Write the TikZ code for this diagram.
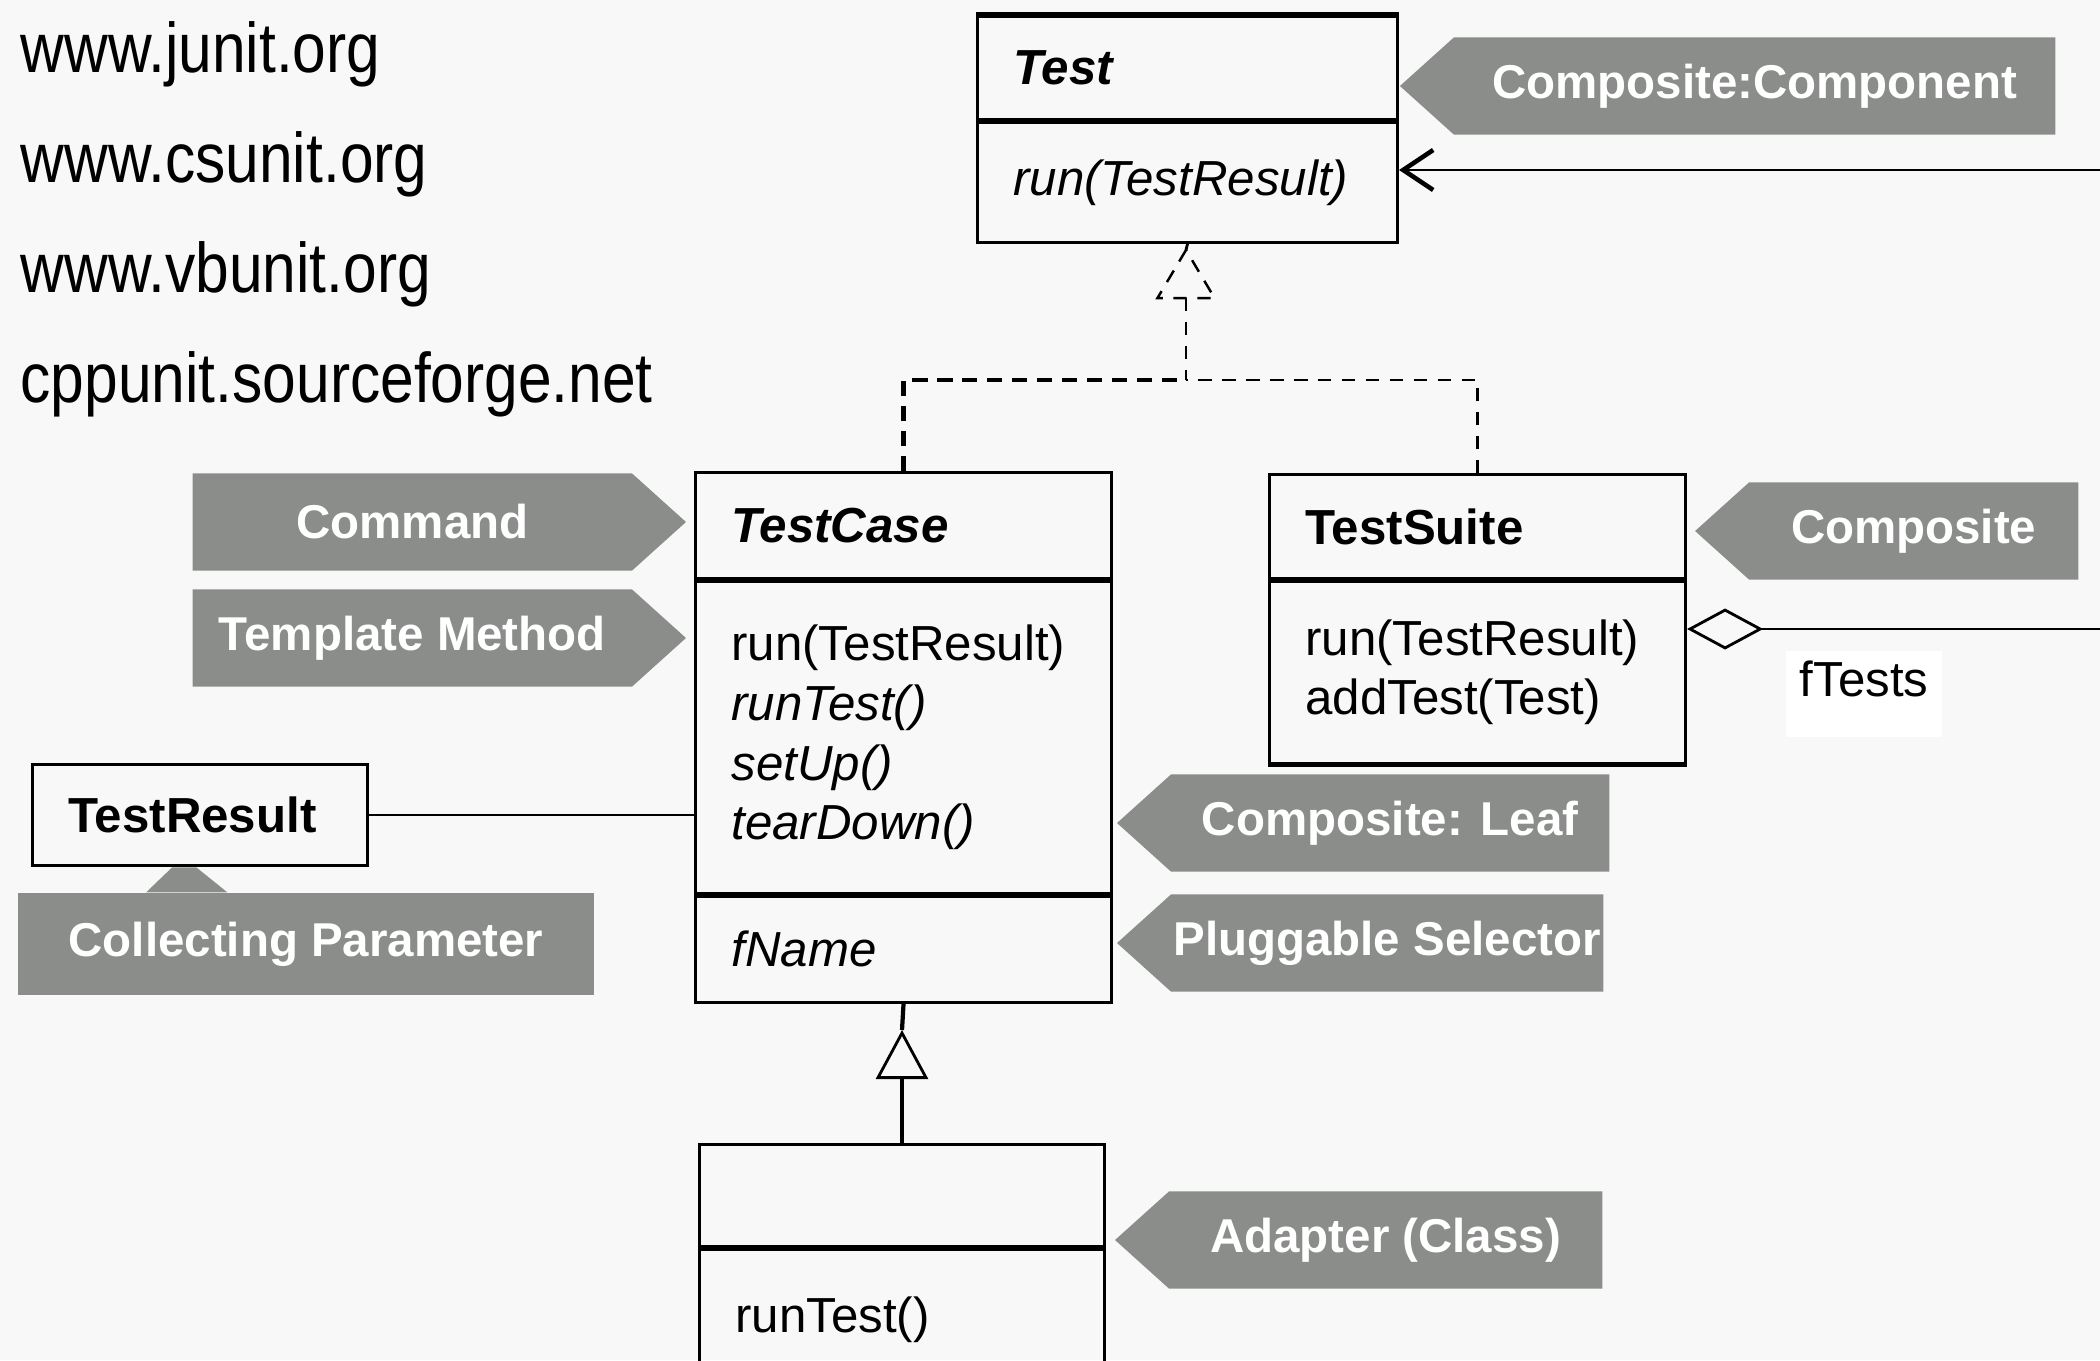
\documentclass[tikz,border=0pt]{standalone}
\usepackage{fontspec}
\setmainfont{Liberation Sans}
\newfontfamily\urlfont[FakeStretch=0.86]{Liberation Sans}
\usetikzlibrary{positioning,shapes.symbols,arrows.meta}
\definecolor{tagfill}{RGB}{138,141,138}
\definecolor{paper}{RGB}{248,248,248}
\newcommand\umlsize{\fontsize{14pt}{17pt}\selectfont}
\newcommand\tagsize{\fontsize{13.5pt}{16pt}\selectfont}
\tikzset{
  comp/.style={draw, line width=0.8pt, inner xsep=0.36cm, inner ysep=0pt,
    align=left, anchor=north west, text width=#1, font=\umlsize},
  divider/.style={line width=1.5pt},
  assoc/.style={line width=0.8pt},
  gen/.style={line width=1.2pt},
  realize/.style={line width=0.7pt, dash pattern=on 3.8pt off 3pt},
  realizebold/.style={line width=1.2pt, dash pattern=on 4.3pt off 2.8pt},
  tagbox/.style={fill=tagfill, text=white, font=\tagsize\bfseries,
    inner sep=0pt, minimum height=0.97cm},
  tagleft/.style={tagbox, shape=signal, signal to=west, signal pointer angle=84},
  tagright/.style={tagbox, shape=signal, signal to=east, signal pointer angle=84},
  url/.style={anchor=base west, inner sep=0pt,
    font=\urlfont\fontsize{20pt}{24pt}\selectfont}
}
\begin{document}
\begin{tikzpicture}[x=0.01cm, y=-0.01cm]
\useasboundingbox (0,0) rectangle (2100,1360);
\clip (0,0) rectangle (2100,1360);
\fill[paper] (0,0) rectangle (2100,1360);

% links
\node[url] (junit) at (20,72) {www.junit.org};
\node[url] (csunit) at (20,182) {www.csunit.org};
\node[url] (vbunit) at (20,292) {www.vbunit.org};
\node[url] (cppunit) at (20,402) {cppunit.sourceforge.net};

% classes
\node[comp=3.48cm, minimum height=1.03cm] (testhead) at (976,15) {\textbf{\textit{Test}}};
\node[comp=3.48cm, minimum height=1.20cm, below=0pt of testhead] (testbody) {\textit{run(TestResult)}};
\draw[divider] (testhead.north west) -- (testhead.north east);
\draw[divider] (testhead.south west) -- (testhead.south east);

\node[comp=3.44cm, minimum height=1.06cm] (tchead) at (694,471) {\textbf{\textit{TestCase}}};
\node[comp=3.44cm, minimum height=3.12cm, below=0pt of tchead] (tcmeth)
  {run(TestResult)\\ \textit{runTest()}\\ \textit{setUp()}\\ \textit{tearDown()}};
\node[comp=3.44cm, minimum height=1.06cm, below=0pt of tcmeth] (tcfield) {\textit{fName}};
\draw[divider] (tchead.south west) -- (tchead.south east);
\draw[divider] (tcmeth.south west) -- (tcmeth.south east);

\node[comp=3.44cm, minimum height=1.04cm] (tshead) at (1268,473) {\textbf{TestSuite}};
\node[comp=3.44cm, minimum height=1.82cm, below=0pt of tshead] (tsbody)
  {run(TestResult)\\ addTest(Test)};
\draw[divider] (tshead.south west) -- (tshead.south east);
\draw[divider] (tsbody.south west) -- (tsbody.south east);

\node[comp=3.33cm, minimum height=1.02cm, anchor=north] (subhead) at (902,1143) {};
\node[comp=3.33cm, minimum height=1.40cm, below=0pt of subhead] (subbody) {runTest()};

\node[comp=2.63cm, minimum height=1.01cm] (result) at (31,763) {\textbf{TestResult}};

% pattern tags
\node[tagleft, minimum width=6.55cm, anchor=east] (tcomponent) at (2056,86) {Composite:Component};
\node[tagleft, minimum width=3.83cm, anchor=east] (tcomposite) at (2079,531) {Composite};
\node[tagleft, minimum width=4.92cm, anchor=east] (tleaf) at (1610,823) {Composite: Leaf};
\node[tagleft, minimum width=4.86cm, anchor=east] (tselector) at (1604,943) {Pluggable Selector};
\node[tagleft, minimum width=4.87cm, anchor=east] (tadapter) at (1603,1240) {Adapter (Class)};
\node[tagright, minimum width=4.93cm, anchor=west] (tcommand) at (192,522) {Command};
\node[tagright, minimum width=4.93cm, anchor=west] (ttemplate) at (192,638) {Template Method};
\node[tagbox, minimum width=5.76cm, minimum height=1.02cm] (tcollect) at (306,944) {Collecting Parameter};
\fill[tagfill] ([xshift=1.29cm]tcollect.north west) -- ([xshift=1.55cm,yshift=0.25cm]tcollect.north west)
  -- ([xshift=1.79cm,yshift=0.25cm]tcollect.north west) -- ([xshift=2.10cm]tcollect.north west) -- cycle;

% connectors
\coordinate (inlet) at (2100,170);
\draw[assoc, -{Straight Barb[length=0.3cm, width=0.4cm, line width=1.3pt]}] (inlet) -- (testbody.east |- inlet);

\coordinate (outlet) at (2100,629);
\draw[assoc, {Diamond[open, length=0.76cm, width=0.41cm]}-] (tsbody.east |- outlet) -- (outlet);
\node[anchor=north west, fill=white, inner xsep=4pt, inner ysep=3pt, text depth=0.3cm,
  font=\umlsize] (ftests) at (1785,650) {fTests};

\draw[assoc] (result.east) -- (tcmeth.west |- result.east);

\coordinate (join) at (1186,380);
\coordinate (rtip) at (1186,250);
\coordinate (rbase) at (1186,298);
\draw[assoc] (testbody.south) -- (rtip);
\draw[realize] (rtip) -- ([xshift=-0.285cm, yshift=-0.48cm]rtip) -- ([xshift=0.285cm, yshift=-0.48cm]rtip) -- cycle;
\draw[realize] (rbase) -- (join);
\draw[realizebold] (tchead.north) |- (join);
\draw[realize] (tshead.north) |- (join);

\coordinate (gtip) at (902,1030);
\draw[gen] (tcfield.south) -- (gtip);
\draw[gen, -{Triangle[open, length=0.49cm, width=0.52cm, line width=0.8pt]}] (subhead.north) -- (gtip);
\end{tikzpicture}
\end{document}
